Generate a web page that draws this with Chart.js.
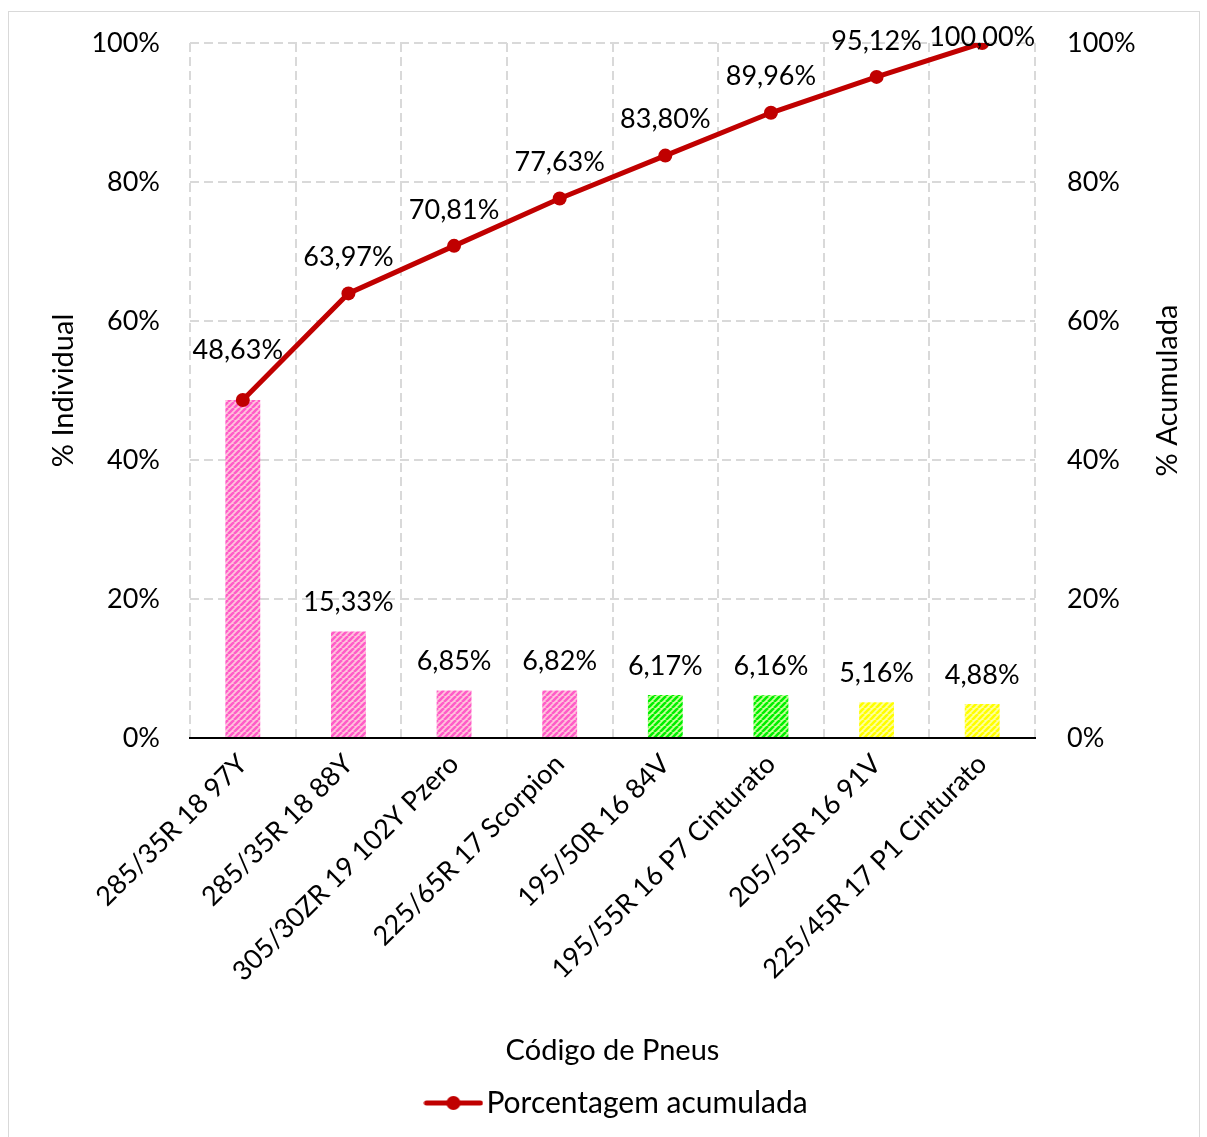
<!DOCTYPE html>
<html lang="pt">
<head>
  <meta charset="UTF-8">
  <title>Pareto - Código de Pneus</title>
  <script src="https://cdn.jsdelivr.net/npm/chart.js"></script>
  <style>
    body { margin: 0; background: #fff; }
    #frame { position: absolute; left: 8px; top: 11px; width: 1190px; height: 1140px; border: 1px solid #d9d9d9; }
    #paretoChart { position: absolute; left: 0; top: 0; }
  </style>
</head>
<body>
  <div id="frame"></div>
  <canvas id="paretoChart" width="1207" height="1137"></canvas>

<script>
  const categories = ['285/35R 18 97Y', '285/35R 18 88Y', '305/30ZR 19 102Y Pzero', '225/65R 17 Scorpion',
    '195/50R 16 84V', '195/55R 16 P7 Cinturato', '205/55R 16 91V', '225/45R 17 P1 Cinturato']
  const individual = [48.63, 15.33, 6.85, 6.82, 6.17, 6.16, 5.16, 4.88]
  const accumulated = [48.63, 63.97, 70.81, 77.63, 83.80, 89.96, 95.12, 100.00]
  const barGroups = ['pink', 'pink', 'pink', 'pink', 'green', 'green', 'yellow', 'yellow']
  const yTicks = [0, 20, 40, 60, 80, 100]

  const FONT = 'Lato'
  const fmt = v => v.toFixed(2).replace('.', ',') + '%'

  // striped fill like the excel "wide upward diagonal" pattern
  function stripes(light, dark) {
    const s = 6
    const c = document.createElement('canvas')
    c.width = s; c.height = s
    const g = c.getContext('2d')
    g.fillStyle = light
    g.fillRect(0, 0, s, s)
    g.strokeStyle = dark
    g.lineWidth = 2.6
    g.beginPath()
    for (let k = -1; k <= 1; k++) {
      g.moveTo(k * s, s)
      g.lineTo(k * s + s, 0)
    }
    g.stroke()
    return g.createPattern(c, 'repeat')
  }
  const fills = {
    pink: stripes('#ffc4dc', '#ff5cc8'),
    green: stripes('#c8ff9a', '#00f000'),
    yellow: stripes('#ffff9e', '#ffff00')
  }

  // legend marker: line with a dot
  const marker = document.createElement('canvas')
  marker.width = 60; marker.height = 16
  {
    const g = marker.getContext('2d')
    g.strokeStyle = '#c00000'
    g.lineWidth = 5
    g.lineCap = 'round'
    g.beginPath(); g.moveTo(3, 8); g.lineTo(57, 8); g.stroke()
    g.fillStyle = '#c00000'
    g.beginPath(); g.arc(30, 8, 7, 0, Math.PI * 2); g.fill()
  }

  const valueLabels = {
    id: 'valueLabels',
    afterDatasetsDraw(chart) {
      const ctx = chart.ctx
      ctx.save()
      ctx.font = '27px ' + FONT
      ctx.fillStyle = '#000'
      ctx.textAlign = 'center'
      ctx.textBaseline = 'middle'
      const bars = chart.getDatasetMeta(1).data
      const pts = chart.getDatasetMeta(0).data
      bars.forEach((b, i) => {
        if (fmt(individual[i]) === fmt(accumulated[i])) return
        ctx.fillText(fmt(individual[i]), b.x, b.y - 29)
      })
      pts.forEach((p, i) => {
        const off = i === 0 ? 50 : 36
        ctx.fillText(fmt(accumulated[i]), p.x - (i === 0 ? 5 : 0), Math.max(p.y - off, 37))
      })
      // right axis title, reading bottom to top
      const a = chart.chartArea
      ctx.font = '29px ' + FONT
      ctx.translate(1168, (a.top + a.bottom) / 2)
      ctx.rotate(-Math.PI / 2)
      ctx.fillText('% Acumulada', 0, 0)
      ctx.restore()
    }
  }

  const gridDash = [9, 5]
  // keep the wide tick padding from pushing the plot area down
  const trimPadding = s => { s.paddingTop = 16; s.paddingBottom = 16 }

  new Chart(document.getElementById('paretoChart'), {
    data: {
      labels: categories,
      datasets: [
        {
          type: 'line',
          label: 'Porcentagem acumulada',
          data: accumulated,
          yAxisID: 'y1',
          borderColor: '#c00000',
          backgroundColor: '#c00000',
          borderWidth: 5,
          pointRadius: 7,
          pointBorderWidth: 0,
          pointBackgroundColor: '#c00000',
          pointStyle: 'circle',
          tension: 0,
          order: 0
        },
        {
          type: 'bar',
          label: '% Individual',
          data: individual,
          yAxisID: 'y',
          backgroundColor: barGroups.map(g => fills[g]),
          borderWidth: 0,
          barPercentage: 0.33,
          categoryPercentage: 1,
          order: 1
        }
      ]
    },
    options: {
      responsive: false,
      animation: false,
      layout: { padding: { top: 43, bottom: 9, left: 36, right: 0 } },
      plugins: {
        tooltip: { enabled: false },
        legend: {
          position: 'bottom',
          labels: {
            filter: item => item.datasetIndex === 0,
            usePointStyle: true,
            pointStyle: marker,
            pointStyleWidth: 36,
            boxHeight: 16,
            padding: 10,
            color: '#000',
            font: { family: FONT, size: 30 }
          }
        }
      },
      scales: {
        x: {
          offset: true,
          grid: { offset: true, color: '#d9d9d9', lineWidth: 2, drawTicks: false },
          border: { display: true, color: '#000', width: 2, dash: gridDash },
          ticks: {
            autoSkip: false, minRotation: 45, maxRotation: 45, padding: 10,
            color: '#000', font: { family: FONT, size: 27 }
          },
          title: {
            display: true, text: 'Código de Pneus', color: '#000',
            font: { family: FONT, size: 29 }, padding: { top: 0, bottom: 10 }
          },
          afterFit: s => { s.height = 340 }
        },
        y: {
          position: 'left',
          min: 0, max: 100,
          afterBuildTicks: s => { s.ticks = yTicks.map(v => ({ value: v })) },
          grid: {
            color: c => c.tick && c.tick.value === 0 ? 'rgba(0,0,0,0)' : '#d9d9d9',
            lineWidth: 2, drawTicks: false
          },
          border: { display: false, dash: gridDash },
          ticks: { padding: 30, color: '#000', font: { family: FONT, size: 27 }, callback: v => v + '%' },
          title: {
            display: true, text: '% Individual', color: '#000',
            font: { family: FONT, size: 29 }, padding: { top: 10, bottom: 0 }
          },
          afterFit: s => { s.width = 154; trimPadding(s) }
        },
        y1: {
          position: 'right',
          min: 0, max: 100,
          afterBuildTicks: s => { s.ticks = yTicks.map(v => ({ value: v })) },
          grid: { display: false, drawTicks: false },
          border: { display: false },
          ticks: { padding: 32, color: '#000', font: { family: FONT, size: 27 }, callback: v => v + '%' },
          afterFit: s => { s.width = 172; trimPadding(s) }
        }
      }
    },
    plugins: [valueLabels]
  })
</script>
</body>
</html>
